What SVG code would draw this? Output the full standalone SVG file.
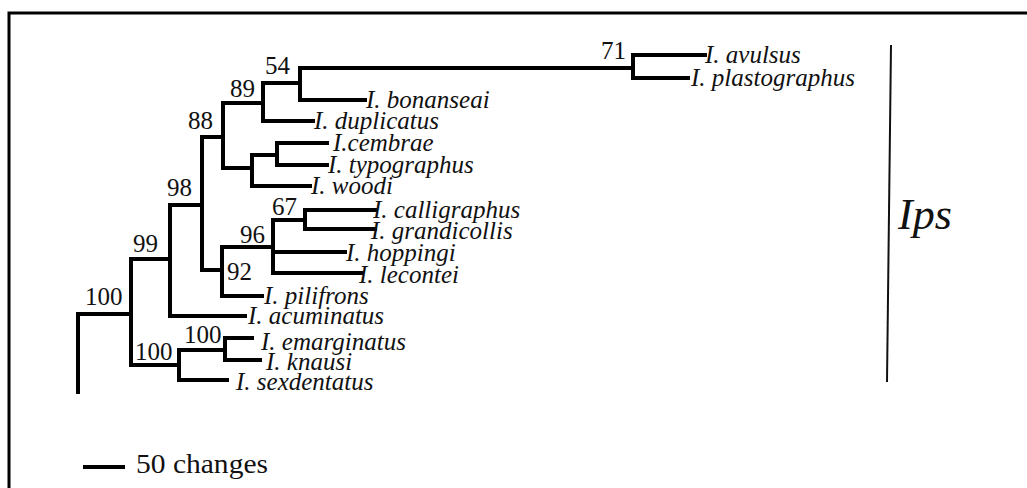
<svg xmlns="http://www.w3.org/2000/svg" width="1027" height="488" viewBox="0 0 1027 488">
<style>
.br{fill:none;stroke:#000;stroke-width:4;stroke-linecap:square;stroke-linejoin:miter}
.sp{font-family:'Liberation Serif',Tinos,'Times New Roman',Times,'DejaVu Serif',serif;font-style:italic;font-size:25px;fill:#111}
.bs{font-family:'Liberation Serif',Tinos,'Times New Roman',Times,'DejaVu Serif',serif;font-size:25px;fill:#111}
.big{font-family:'Liberation Serif',Tinos,'Times New Roman',Times,'DejaVu Serif',serif;fill:#111}
</style>
<rect width="1027" height="488" fill="#fff"/>
<path d="M9,488 V13 H1027" fill="none" stroke="#000" stroke-width="3"/>
<g id="connectors">
<path class="br" d="M78,392 V314 H131"/>
<path class="br" d="M170,259 H131 V365 H179"/>
<path class="br" d="M245,316 H170 V205 H202"/>
<path class="br" d="M223,137 H202 V270 H222"/>
<path class="br" d="M273,247 H222 V296 H262"/>
<path class="br" d="M305,220 H273 V273 H362"/>
<path class="br" d="M273,252 H345"/>
<path class="br" d="M375,210 H305 V229 H375"/>
<path class="br" d="M263,103 H223 V168 H252"/>
<path class="br" d="M300,83 H263 V121 H313"/>
<path class="br" d="M633,68 H300 V100 H365"/>
<path class="br" d="M705,55 H633 V78 H688"/>
<path class="br" d="M277,155 H252 V186 H310"/>
<path class="br" d="M327,143 H277 V165 H327"/>
<path class="br" d="M225,350 H179 V380 H227"/>
<path class="br" d="M252,338 H225 V360 H260"/>
</g>
<g id="leaf-avulsus"><text class="sp" x="705" y="63">I. avulsus</text></g>
<g id="leaf-plastographus"><text class="sp" x="691" y="86">I. plastographus</text></g>
<g id="leaf-bonanseai"><text class="sp" x="366" y="108">I. bonanseai</text></g>
<g id="leaf-duplicatus"><text class="sp" x="314" y="129">I. duplicatus</text></g>
<g id="leaf-cembrae"><text class="sp" x="333" y="151">I.cembrae</text></g>
<g id="leaf-typographus"><text class="sp" x="328" y="173">I. typographus</text></g>
<g id="leaf-woodi"><text class="sp" x="311" y="194">I. woodi</text></g>
<g id="leaf-calligraphus"><text class="sp" x="373" y="218">I. calligraphus</text></g>
<g id="leaf-grandicollis"><text class="sp" x="371" y="239">I. grandicollis</text></g>
<g id="leaf-hoppingi"><text class="sp" x="346" y="261">I. hoppingi</text></g>
<g id="leaf-lecontei"><text class="sp" x="359" y="283">I. lecontei</text></g>
<g id="leaf-pilifrons"><text class="sp" x="264" y="304">I. pilifrons</text></g>
<g id="leaf-acuminatus"><text class="sp" x="248" y="324">I. acuminatus</text></g>
<g id="leaf-emarginatus"><text class="sp" x="261" y="350">I. emarginatus</text></g>
<g id="leaf-knausi"><text class="sp" x="266" y="370">I. knausi</text></g>
<g id="leaf-sexdentatus"><text class="sp" x="236" y="390">I. sexdentatus</text></g>
<g id="support-71"><text class="bs" x="601" y="59">71</text></g>
<g id="support-54"><text class="bs" x="265" y="74">54</text></g>
<g id="support-89"><text class="bs" x="230" y="97">89</text></g>
<g id="support-88"><text class="bs" x="188" y="129">88</text></g>
<g id="support-98"><text class="bs" x="167" y="196">98</text></g>
<g id="support-99"><text class="bs" x="133" y="252">99</text></g>
<g id="support-100-root"><text class="bs" x="85" y="305">100</text></g>
<g id="support-100-low"><text class="bs" x="135" y="360">100</text></g>
<g id="support-100-em"><text class="bs" x="184" y="343">100</text></g>
<g id="support-67"><text class="bs" x="272" y="215">67</text></g>
<g id="support-96"><text class="bs" x="240" y="243">96</text></g>
<g id="support-92"><text class="bs" x="227" y="280">92</text></g>
<g id="clade-ips">
<line x1="891" y1="45" x2="887" y2="382" stroke="#111" stroke-width="2"/>
<text class="big" x="898" y="229" font-style="italic" font-size="44">Ips</text>
</g>
<g id="scale-bar">
<line x1="83" y1="467" x2="125" y2="467" stroke="#000" stroke-width="4"/>
<text class="big" x="136" y="473" font-size="27" textLength="132" lengthAdjust="spacingAndGlyphs">50 changes</text>
</g>
</svg>
